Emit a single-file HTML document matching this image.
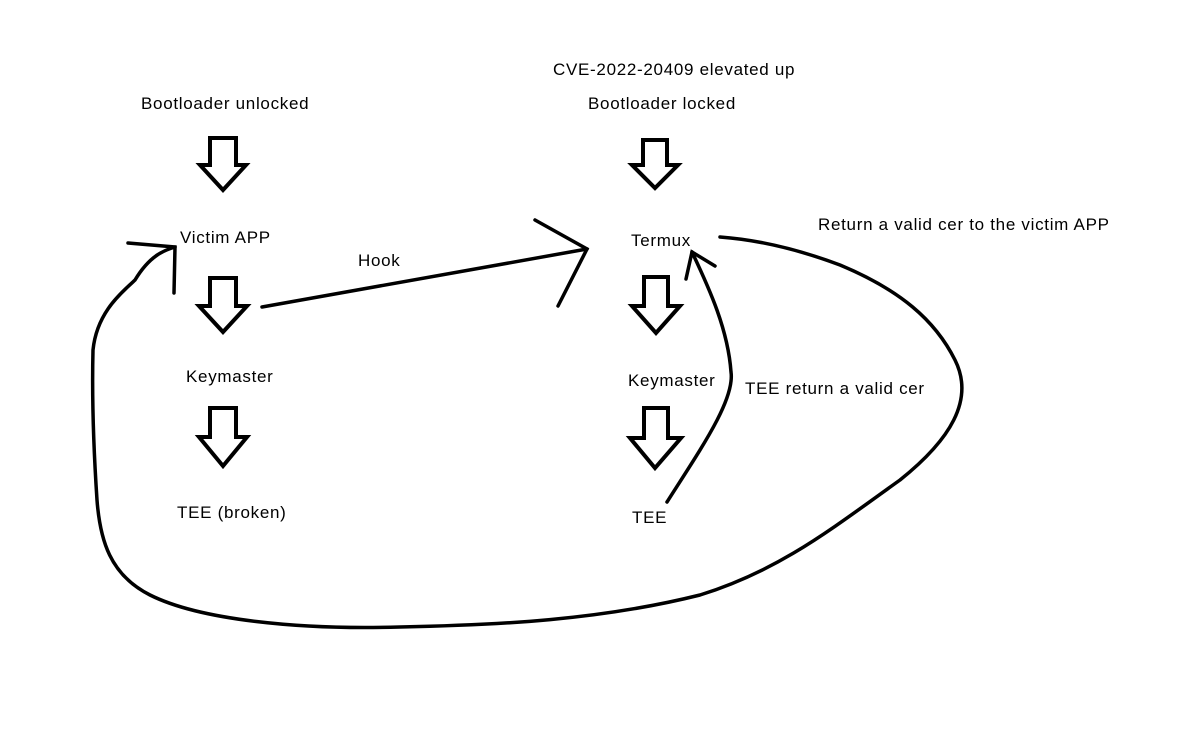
<!DOCTYPE html>
<html><head><style>
body{margin:0;background:#fff;}
svg text{font-family:"Liberation Sans",sans-serif;font-size:17px;letter-spacing:0.7px;fill:#000;}
</style></head><body>
<svg width="1200" height="725" viewBox="0 0 1200 725" xmlns="http://www.w3.org/2000/svg">
<rect width="1200" height="725" fill="#fff"/>
<g fill="none" stroke="#000" stroke-width="4" stroke-linejoin="miter">
<path d="M210,138 H236 V165 H246 L223,190 L200,165 H210 Z"/>
<path d="M210,278 H236 V306 H247 L223,332 L199,306 H210 Z"/>
<path d="M210,408 H236 V437 H247 L223,466 L199,437 H210 Z"/>
<path d="M643,140 H667 V165 H678 L655,188 L632,165 H643 Z"/>
<path d="M644,277 H668 V306 H680 L656,333 L632,306 H644 Z"/>
<path d="M644,408 H668 V438 H681 L655,468 L630,438 H644 Z"/>
</g>
<g fill="none" stroke="#000" stroke-width="3.5" stroke-linecap="round">
<path d="M262,307 L587,249"/>
<path d="M535,220 L587,249 L558,306"/>
<path d="M667,502 C700,450 735,400 731,372 C728,330 710,290 692,252"/>
<path d="M686,279 L692,252 L715,266"/>
<path d="M720,237 C760,240 800,250 840,265 C900,290 935,320 955,360 C975,400 950,440 900,480 C830,530 780,570 700,595 C600,620 500,625 400,627 C300,630 200,620 150,595 C110,575 100,540 97,500 C93,440 92,390 93,350 C97,310 125,290 135,280 C150,255 165,250 175,247"/>
<path d="M128,243 L175,247 L174,293"/>
</g>
<text x="553" y="75">CVE-2022-20409 elevated up</text>
<text x="141" y="109">Bootloader unlocked</text>
<text x="588" y="109">Bootloader locked</text>
<text x="180" y="243">Victim APP</text>
<text x="631" y="246">Termux</text>
<text x="818" y="230">Return a valid cer to the victim APP</text>
<text x="358" y="266">Hook</text>
<text x="186" y="382">Keymaster</text>
<text x="628" y="386">Keymaster</text>
<text x="745" y="394">TEE return a valid cer</text>
<text x="177" y="518">TEE (broken)</text>
<text x="632" y="523">TEE</text>
</svg>
</body></html>
